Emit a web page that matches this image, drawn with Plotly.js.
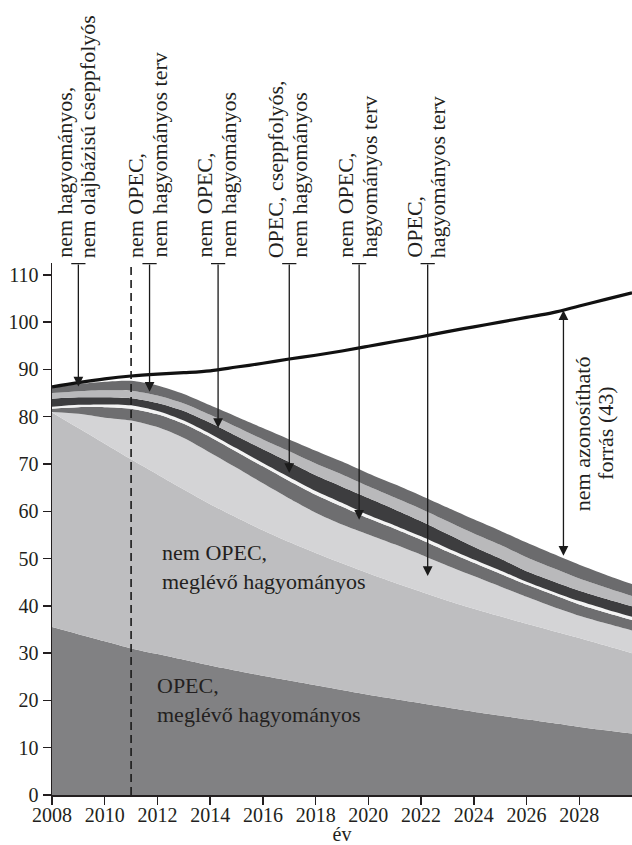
<!DOCTYPE html>
<html><head><meta charset="utf-8">
<script src="https://cdn.plot.ly/plotly-3.0.1.min.js"></script>
<style>html,body{margin:0;padding:0;background:#fff;} #chart{width:632px;height:845px;}</style>
</head><body><div id="chart"></div>
<script>
// ---- data ----
const years = [2008,2009,2010,2011,2012,2013,2014,2015,2016,2017,2018,2019,2020,2021,2022,2023,2024,2025,2026,2027,2028,2029,2030];
const opecExisting        = [35.5,34.0,32.5,31.0,29.8,28.6,27.4,26.3,25.2,24.2,23.2,22.2,21.2,20.3,19.4,18.5,17.6,16.8,16.0,15.2,14.4,13.7,13.0];
const nonOpecExisting     = [45.4,43.6,41.8,40.0,38.0,36.0,34.1,32.4,30.8,29.3,28.0,26.8,25.7,24.6,23.6,22.6,21.8,21.0,20.2,19.5,18.8,17.9,17.0];
const opecConvPlanned     = [0.1,3.0,5.5,8.2,10.0,10.9,10.9,10.5,9.9,9.2,8.5,8.2,8.2,8.1,7.8,7.4,6.9,6.3,5.7,5.1,4.7,4.7,4.8];
const nonOpecConvPlanned  = [0.7,1.4,2.2,2.5,2.7,3.0,3.3,3.4,3.6,3.7,3.8,3.8,3.4,3.3,3.2,3.0,2.8,2.7,2.6,2.6,2.4,2.3,2.2];
const opecNglUnconv       = [0.4,0.5,0.6,0.7,0.7,0.7,0.7,0.7,0.7,0.8,0.8,0.8,0.7,0.7,0.7,0.7,0.7,0.7,0.6,0.6,0.7,0.7,0.7];
const nonOpecUnconv       = [1.7,1.6,1.5,1.5,1.7,2.0,2.3,2.6,2.9,3.2,3.3,3.4,3.6,3.4,3.2,3.0,2.7,2.5,2.2,2.2,2.2,2.2,2.2];
const nonOpecUnconvPlan   = [1.2,1.3,1.5,1.6,1.6,1.6,1.7,1.9,2.1,2.3,2.5,2.6,2.5,2.5,2.6,2.7,2.8,2.9,3.0,2.8,2.6,2.4,2.2];
const unconvNonOil        = [1.1,1.5,1.8,2.1,2.1,2.0,2.0,2.2,2.4,2.5,2.7,2.7,2.7,2.8,2.8,2.9,3.0,3.0,3.1,3.0,2.9,2.7,2.5];
const demand              = [86.3,87.2,88.0,88.6,89.0,89.3,89.7,90.5,91.3,92.2,93.0,93.9,94.9,95.9,96.9,98.0,99.0,100.0,101.0,102.0,103.4,104.8,106.2];

const xTicks = [2008,2010,2012,2014,2016,2018,2020,2022,2024,2026,2028];
const yTicks = [0,10,20,30,40,50,60,70,80,90,100,110];

const topLine1 = ['nem hagyományos,','nem OPEC,','nem OPEC,','OPEC, cseppfolyós,','nem OPEC,','OPEC,'];
const topLine2 = ['nem olajbázisú cseppfolyós','nem hagyományos terv','nem hagyományos','nem hagyományos','hagyományos terv','hagyományos terv'];
const arrowYear = [2009.0,2011.7,2014.3,2017.0,2019.65,2022.25];
const arrowTip  = [86.4,85.3,77.6,68.1,58.2,46.3];

// ---- drawing ----
const FONT = 'Liberation Serif';
const INK = '#231f20';
const YMAX = 112.5;

const layers = [
  {y: opecExisting,       c: '#818183'},
  {y: nonOpecExisting,    c: '#bebec0'},
  {y: opecConvPlanned,    c: '#d4d4d6'},
  {y: nonOpecConvPlanned, c: '#6e6e70'},
  {y: opecNglUnconv,      c: '#f4f4f4'},
  {y: nonOpecUnconv,      c: '#3d3d3f'},
  {y: nonOpecUnconvPlan,  c: '#b9b9bb'},
  {y: unconvNonOil,       c: '#6b6b6d'}
];
const traces = layers.map(l => ({
  x: years, y: l.y, type: 'scatter', mode: 'lines', stackgroup: 's',
  line: {width: 0, shape: 'spline', smoothing: 0.7, color: l.c},
  fillcolor: l.c, hoverinfo: 'skip'
}));
traces.push({x: years, y: demand, type: 'scatter', mode: 'lines',
  line: {color: '#111', width: 3.2, shape: 'spline'}, hoverinfo: 'skip'});

const annotations = [];
const shapes = [];
arrowYear.forEach((x, i) => {
  annotations.push({x: x, y: arrowTip[i], ax: x, ay: YMAX, xref: 'x', yref: 'y', axref: 'x', ayref: 'y',
    showarrow: true, arrowhead: 2, arrowsize: 1.5, arrowwidth: 1.3, arrowcolor: '#1a1a1a', text: '', standoff: 0});
  shapes.push({type: 'line', xref: 'x', yref: 'y', x0: x - 0.27, x1: x + 0.27, y0: YMAX, y1: YMAX,
    line: {color: '#1a1a1a', width: 2.5}});
  annotations.push({x: x, y: 1, xref: 'x', yref: 'paper', xanchor: 'center', yanchor: 'bottom',
    textangle: -90, text: topLine1[i], showarrow: false, xshift: -14, yshift: 3,
    font: {family: FONT, size: 22, color: INK}});
  annotations.push({x: x, y: 1, xref: 'x', yref: 'paper', xanchor: 'center', yanchor: 'bottom',
    textangle: -90, text: topLine2[i], showarrow: false, xshift: 9.5, yshift: 3,
    font: {family: FONT, size: 22, color: INK}});
});
// unidentified source double arrow
annotations.push({x: 2027.4, y: 50.6, ax: 2027.4, ay: 102.8, xref: 'x', yref: 'y', axref: 'x', ayref: 'y',
  showarrow: true, arrowhead: 2, startarrowhead: 2, arrowside: 'end+start', arrowsize: 1.5, arrowwidth: 1.3,
  arrowcolor: '#1a1a1a', text: '', standoff: 0, startstandoff: 0});
annotations.push({x: 2028.1, y: 76.5, xref: 'x', yref: 'y', textangle: -90, text: 'nem azonosítható',
  showarrow: false, xanchor: 'center', yanchor: 'middle', font: {family: FONT, size: 22, color: INK}});
annotations.push({x: 2029.0, y: 76.5, xref: 'x', yref: 'y', textangle: -90, text: 'forrás (43)',
  showarrow: false, xanchor: 'center', yanchor: 'middle', font: {family: FONT, size: 22, color: INK}});
// in-area labels
annotations.push({x: 2012.1, y: 48.2, xref: 'x', yref: 'y', text: 'nem OPEC,<br>meglévő hagyományos',
  showarrow: false, xanchor: 'left', yanchor: 'middle', align: 'left', font: {family: FONT, size: 22, color: INK}});
annotations.push({x: 2011.9, y: 20.1, xref: 'x', yref: 'y', text: 'OPEC,<br>meglévő hagyományos',
  showarrow: false, xanchor: 'left', yanchor: 'middle', align: 'left', font: {family: FONT, size: 22, color: INK}});

// dashed 2011 marker
shapes.push({type: 'line', xref: 'x', yref: 'y', x0: 2011, x1: 2011, y0: 0, y1: YMAX,
  line: {color: '#1a1a1a', width: 1.6, dash: '8px,5px'}, layer: 'above'});

const axisCommon = {
  ticks: 'outside', ticklen: 8, tickwidth: 1.5, tickcolor: INK,
  showline: true, linecolor: INK, linewidth: 1.5, showgrid: false, zeroline: false,
  tickfont: {family: FONT, size: 20, color: INK}, fixedrange: true
};
const layout = {
  width: 632, height: 845,
  margin: {l: 52, r: 0, t: 263, b: 50},
  paper_bgcolor: '#fff', plot_bgcolor: '#fff', showlegend: false,
  font: {family: FONT, size: 20, color: INK},
  xaxis: Object.assign({}, axisCommon, {range: [2008, 2030], tickmode: 'array', tickvals: xTicks,
    ticklabelstandoff: -7,
    title: {text: 'év', standoff: 0, font: {family: FONT, size: 20, color: INK}}, automargin: false}),
  yaxis: Object.assign({}, axisCommon, {range: [0, YMAX], tickmode: 'array', tickvals: yTicks, automargin: false}),
  annotations: annotations,
  shapes: shapes
};
Plotly.newPlot('chart', traces, layout, {displayModeBar: false, staticPlot: true});
</script>
</body></html>
